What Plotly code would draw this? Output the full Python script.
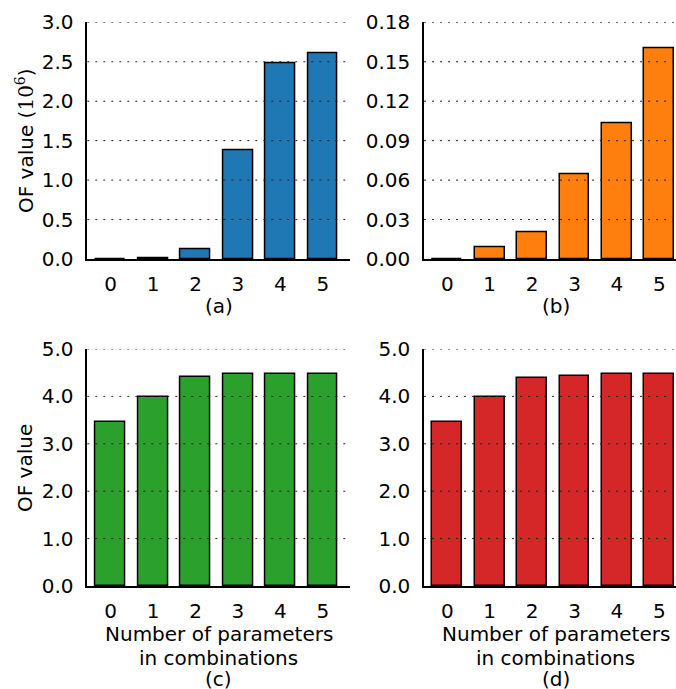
import plotly.graph_objects as go

W, H = 676, 689

# ---- data ----
categories = [0, 1, 2, 3, 4, 5]
values_a = [0.0, 0.012, 0.127, 1.38, 2.48, 2.61]          # OF value (10^6)
values_b = [0.0, 0.0089, 0.0203, 0.0646, 0.103, 0.160]
values_c = [3.47, 3.99, 4.40, 4.47, 4.47, 4.47]
values_d = [3.47, 3.99, 4.39, 4.42, 4.48, 4.48]

ticks_a = [0.0, 0.5, 1.0, 1.5, 2.0, 2.5, 3.0]
ticks_b = [0.00, 0.03, 0.06, 0.09, 0.12, 0.15, 0.18]
ticks_cd = [0.0, 1.0, 2.0, 3.0, 4.0, 5.0]

colors = ["#1f77b4", "#ff7f0e", "#2ca02c", "#d62728"]

FONT = "DejaVu Sans"
FS = 20

def px_x(p):
    return p / W

def px_y(p):
    return 1 - p / H

fig = go.Figure()

panels = [
    # values, ticks, fmt, xaxis domain (px), yaxis domain (px top,bottom), xrange
    (values_a, ticks_a, ".1f", (87.3, 350.0), (22.3, 259.0), [-0.55, 5.64]),
    (values_b, ticks_b, ".2f", (424.0, 676.0), (22.3, 259.0), [-0.55, 5.394]),
    (values_c, ticks_cd, ".1f", (87.3, 350.0), (349.0, 586.0), [-0.55, 5.64]),
    (values_d, ticks_cd, ".1f", (424.0, 676.0), (349.0, 586.0), [-0.55, 5.394]),
]

for i, (vals, ticks, fmt, xd, yd, xr) in enumerate(panels):
    n = i + 1
    xa = "x" if n == 1 else f"x{n}"
    ya = "y" if n == 1 else f"y{n}"
    fig.add_trace(go.Bar(
        x=categories, y=vals, width=0.7,
        marker=dict(color=colors[i], line=dict(color="black", width=1.5)),
        xaxis=xa, yaxis=ya, showlegend=False,
    ))
    xkey = "xaxis" if n == 1 else f"xaxis{n}"
    ykey = "yaxis" if n == 1 else f"yaxis{n}"
    fig.update_layout(**{
        xkey: dict(
            domain=[px_x(xd[0]), px_x(xd[1])], range=xr, anchor=ya,
            tickmode="array", tickvals=categories, ticktext=[str(c) for c in categories],
            showgrid=False, zeroline=False, showline=True, linecolor="black", linewidth=1.5,
            ticks="", ticklabelstandoff=6, layer="above traces", automargin=False,
            tickfont=dict(family=FONT, size=FS, color="black"),
        ),
        ykey: dict(
            domain=[px_y(yd[1]), px_y(yd[0])], range=[ticks[0], ticks[-1]], anchor=xa,
            tickmode="array", tickvals=ticks, tickformat=fmt,
            showgrid=False, zeroline=False, showline=True, linecolor="black", linewidth=1.5,
            ticks="", ticklabelstandoff=8, layer="above traces", automargin=False,
            tickfont=dict(family=FONT, size=FS, color="black"),
        ),
    })
    # dotted grid drawn above the bars
    for t in ticks[1:]:
        fig.add_shape(type="line", xref=f"{xa} domain", yref=ya,
                      x0=0, x1=1, y0=t, y1=t, layer="above",
                      line=dict(color="#222222", width=1, dash="2px,6px"))

# panel letters and axis labels
ann_font = dict(family=FONT, size=FS, color="black")
centers = [218.6, 555.5]
fig.add_annotation(text="(a)", x=px_x(centers[0]), y=px_y(306), xref="paper", yref="paper",
                   showarrow=False, font=ann_font, xanchor="center", yanchor="middle")
fig.add_annotation(text="(b)", x=px_x(centers[1]), y=px_y(306), xref="paper", yref="paper",
                   showarrow=False, font=ann_font, xanchor="center", yanchor="middle")
for j, letter in enumerate(["(c)", "(d)"]):
    for txt, py in [("Number of parameters", 634), ("in combinations", 657.5), (letter, 679)]:
        fig.add_annotation(text=txt, x=px_x(centers[j]), y=px_y(py), xref="paper", yref="paper",
                           showarrow=False, font=ann_font, xanchor="center", yanchor="middle")

fig.add_annotation(text="OF value (<span style='font-family:DejaVu Serif'>10<sup>6</sup></span>)",
                   x=px_x(25), y=px_y(141), xref="paper", yref="paper", textangle=-90,
                   showarrow=False, font=ann_font, xanchor="center", yanchor="middle")
fig.add_annotation(text="OF value",
                   x=px_x(25), y=px_y(468), xref="paper", yref="paper", textangle=-90,
                   showarrow=False, font=ann_font, xanchor="center", yanchor="middle")

fig.update_layout(
    width=W, height=H,
    margin=dict(l=0, r=0, t=0, b=0, autoexpand=False),
    paper_bgcolor="white", plot_bgcolor="white",
    bargap=0, font=dict(family=FONT, size=FS, color="black"),
)

fig.write_html("out.html", config={"displayModeBar": False},
               post_script="document.body.style.margin='0';document.body.style.overflow='hidden';")
